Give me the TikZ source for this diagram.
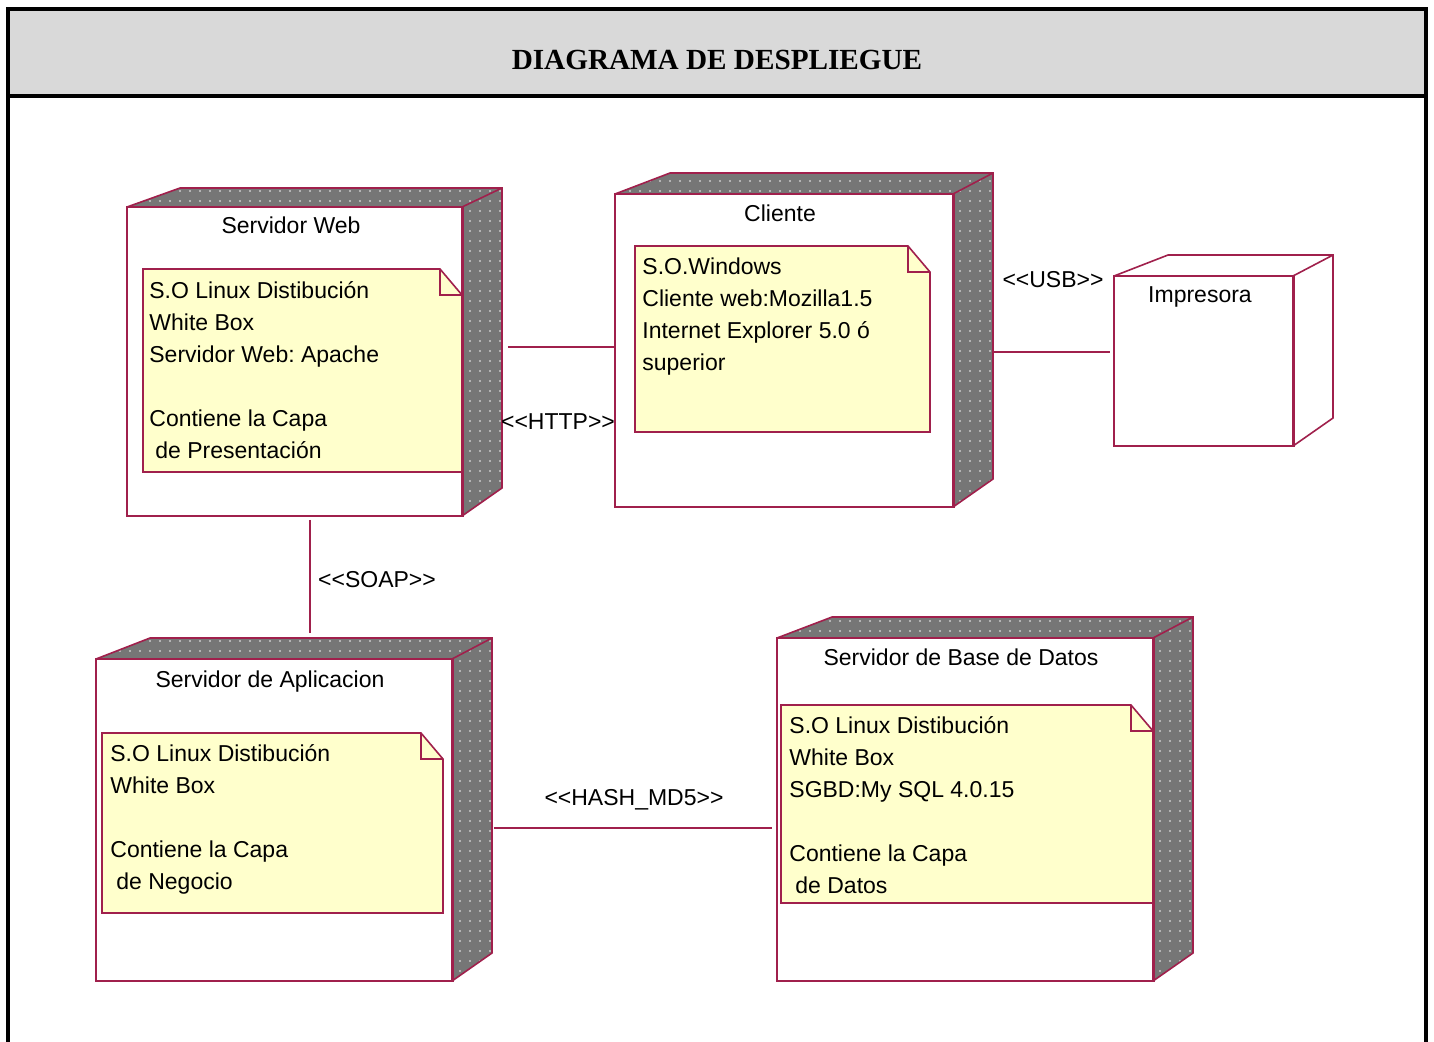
\documentclass[tikz,border=0pt]{standalone}
\usepackage{fontspec}
\setmainfont{Liberation Serif}
\newfontfamily\uifont{Liberation Sans}
\usetikzlibrary{fit,patterns}
\frenchspacing

\definecolor{edge}{HTML}{A0204C}
\definecolor{shade}{HTML}{767676}
\definecolor{notefill}{HTML}{FFFFCC}
\definecolor{titlebar}{HTML}{D9D9D9}

% small light dots sprinkled over the shaded faces of a node
\pgfdeclarepatternformonly{sidedots}{\pgfqpoint{-1pt}{-1pt}}{\pgfqpoint{1pt}{1pt}}{\pgfqpoint{5pt}{5pt}}%
  {\pgfpathrectangle{\pgfqpoint{-0.35pt}{-0.35pt}}{\pgfqpoint{0.7pt}{0.7pt}}\pgfusepath{fill}}

\tikzset{
  edgeline/.style={draw=edge, line width=0.8pt, line join=miter},
  conn/.style={draw=edge, line width=0.8pt},
  front/.style={draw=edge, fill=white, line width=0.8pt, inner sep=0pt},
  notebox/.style={draw=edge, fill=notefill, line width=0.8pt},
  ui/.style={font={\uifont\fontsize{11.5}{16}\selectfont}, inner sep=0pt},
  notetext/.style={ui, align=left, anchor=north west},
  nodelabel/.style={ui, anchor=base},
  stereo/.style={ui, anchor=base},
  shadedside/.style={fill=shade},
  shadedside dots/.style={pattern=sidedots, pattern color=white!45!shade},
  plainside/.style={fill=white},
  plainside dots/.style={},
}

% 3D deployment node: #1 name, #2 x0, #3 y0, #4 x1, #5 y1 (front face),
% #6 slant of the top-left edge, #7 depth of the top face, #8 style of the hidden faces
\newcommand{\deploynode}[8]{%
  \path[#8] (#2,#3) -- (#2+#6,#3-#7) -- (#4+40,#3-#7) -- (#4+40,#5-28) -- (#4,#5) -- cycle;
  \path[#8 dots] (#2,#3) -- (#2+#6,#3-#7) -- (#4+40,#3-#7) -- (#4+40,#5-28) -- (#4,#5) -- cycle;
  \draw[edgeline] (#2,#3) -- (#2+#6,#3-#7) -- (#4+40,#3-#7) -- (#4+40,#5-28) -- (#4,#5);
  \draw[edgeline] (#4,#3) -- (#4+40,#3-#7);
  \node[front, fit={(#2,#3) (#4,#5)}] (#1) {};
  \draw[edge, line width=1.4pt] (#1.north east) -- (#1.south east);
}

% note with a folded corner: #1 name, #2 x0, #3 y0, #4 x1, #5 y1
\newcommand{\notepaper}[5]{%
  \draw[notebox] (#2,#3) -- (#4-22,#3) -- (#4,#3+26) -- (#4,#5) -- (#2,#5) -- cycle;
  \draw[edgeline] (#4-22,#3) -- (#4-22,#3+26) -- (#4,#3+26);
  \node[fit={(#2,#3) (#4,#5)}, inner sep=0pt] (#1) {};
}

\begin{document}
\begin{tikzpicture}[x=0.5pt, y=-0.5pt]
  \useasboundingbox (0,0) rectangle (1434,1041);
  \fill[white] (0,0) rectangle (1434,1041);

  % frame and title bar
  \fill[titlebar] (8,9) rectangle (1426,96);
  \draw[black, line width=1.6pt] (8,1045) -- (8,9) -- (1426,9) -- (1426,1045);
  \draw[black, line width=1.6pt] (8,96) -- (1426,96);
  \node[font={\bfseries\fontsize{14.6}{16}\selectfont}, inner sep=0pt] (title) at (717,60)
    {DIAGRAMA DE DESPLIEGUE};

  % Servidor Web
  \deploynode{web}{127}{207}{462}{516}{53}{19}{shadedside}
  \node[nodelabel] (webT) at (291,233) {Servidor Web};
  \notepaper{webN}{143}{269}{462}{472}
  \node[notetext] (webX) at (149,276) {\strut S.O Linux Distibución\\White Box\\Servidor Web: Apache\\ \\Contiene la Capa\\\hspace{3pt}de Presentación};

  % Cliente
  \deploynode{cli}{615}{194}{953}{507}{55}{21}{shadedside}
  \node[nodelabel] (cliT) at (780,221) {Cliente};
  \notepaper{cliN}{635}{246}{930}{432}
  \node[notetext] (cliX) at (642,252) {\strut S.O.Windows\\Cliente web:Mozilla1.5\\Internet Explorer 5.0 ó\\superior};

  % Impresora
  \deploynode{imp}{1114}{276}{1293}{446}{54}{21}{plainside}
  \node[nodelabel] (impT) at (1200,302) {Impresora};

  % Servidor de Aplicacion
  \deploynode{app}{96}{659}{452}{981}{54}{21}{shadedside}
  \node[nodelabel] (appT) at (270,687) {Servidor de Aplicacion};
  \notepaper{appN}{102}{733}{443}{913}
  \node[notetext] (appX) at (110,739) {\strut S.O Linux Distibución\\White Box\\ \\Contiene la Capa\\\hspace{3pt}de Negocio};

  % Servidor de Base de Datos
  \deploynode{db}{777}{638}{1153}{981}{55}{21}{shadedside}
  \node[nodelabel] (dbT) at (961,665) {Servidor de Base de Datos};
  \notepaper{dbN}{781}{705}{1153}{903}
  \node[notetext] (dbX) at (789,711) {\strut S.O Linux Distibución\\White Box\\SGBD:My SQL 4.0.15\\ \\Contiene la Capa\\\hspace{3pt}de Datos};

  % communication links
  \draw[conn] ([xshift=22.5pt]web.east |- 0,347) -- (cli.west |- 0,347);
  \node[stereo] (http) at (558,429) {<{}<HTTP>{}>};

  \draw[conn] ([xshift=20pt]cli.east |- 0,352) -- ([xshift=-1.5pt]imp.west |- 0,352);
  \node[stereo] (usb) at (1053,287) {<{}<USB>{}>};

  \draw[conn] ([yshift=-1.5pt]web.south -| 310,0) -- ([yshift=12.5pt]app.north -| 310,0);
  \node[stereo] (soap) at (377,587) {<{}<SOAP>{}>};

  \draw[conn] ([xshift=20.5pt]app.east |- 0,828) -- ([xshift=-2pt]db.west |- 0,828);
  \node[stereo] (hash) at (634,805) {<{}<HASH\_MD5>{}>};
\end{tikzpicture}
\end{document}
